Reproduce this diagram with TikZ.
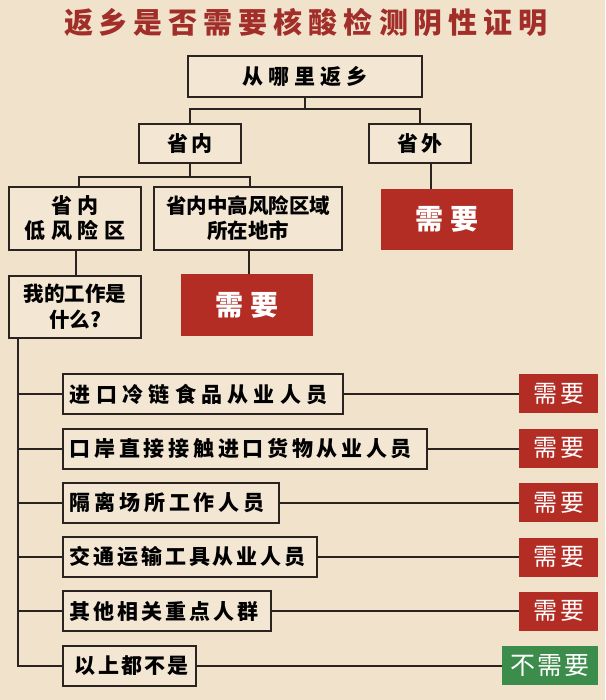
\documentclass[tikz,border=0pt]{standalone}
\usepackage{fontspec}
\newfontfamily\cjk{Noto Sans CJK SC}
\definecolor{bgc}{HTML}{F1E2CB}
\definecolor{boxc}{HTML}{F3E6D3}
\definecolor{linec}{HTML}{2A2320}
\definecolor{redc}{HTML}{B32D24}
\definecolor{greenc}{HTML}{3C8C4C}
\definecolor{titlec}{HTML}{A12E29}
\makeatletter
\newcommand\ls[2]{\def\lsgap{#1}\@tfor\lsch:=#2\do{\lsch\hskip\lsgap\relax}\unskip}
\makeatother
\tikzset{
  plain/.style={draw=linec, line width=1.8pt, fill=boxc, inner sep=0pt, align=center, text=black, font=\cjk\bfseries\fontsize{21}{25}\selectfont},
  redbig/.style={fill=redc, inner sep=0pt, text=white, font=\cjk\bfseries\fontsize{28}{30}\selectfont},
  rowbox/.style={draw=linec, line width=1.8pt, fill=boxc, anchor=west, minimum height=40pt, inner ysep=0pt, inner xsep=7pt, align=left, text=black, font=\cjk\bfseries\fontsize{21}{24}\selectfont},
  res/.style={fill=redc, inner sep=0pt, minimum height=39pt, text=white, font=\cjk\fontsize{24}{26}\selectfont},
  resg/.style={fill=greenc, inner sep=0pt, minimum height=39pt, text=white, font=\cjk\fontsize{25}{27}\selectfont},
  conn/.style={draw=linec, line width=1.8pt}
}
\begin{document}
\begin{tikzpicture}[x=1pt,y=-1pt]
\fill[bgc] (0,0) rectangle (605,700);
\useasboundingbox (0,0) rectangle (605,700);
\node[text=titlec, font=\cjk\bfseries\fontsize{29}{32}\selectfont] (title) at (306,22) {\ls{6pt}{返乡是否需要核酸检测阴性证明}};
\node[plain, minimum width=234pt, minimum height=41pt] (top) at (305,76.5) {\ls{4.9pt}{从哪里返乡}};
\node[plain, minimum width=102pt, minimum height=39pt] (sn) at (190,143.5) {\ls{3.7pt}{省内}};
\node[plain, minimum width=102pt, minimum height=39pt] (sw) at (420,143.5) {\ls{3.7pt}{省外}};
\node[redbig, minimum width=132pt, minimum height=61pt] (need1) at (447,219.5) {\ls{7pt}{需要}};
\node[plain, minimum width=132pt, minimum height=63pt] (low) at (75,218.5) {\ls{5.6pt}{省内}\\\ls{5.6pt}{低风险区}};
\node[plain, minimum width=188pt, minimum height=63pt, font=\cjk\bfseries\fontsize{20.5}{25}\selectfont] (high) at (248,218.5) {省内中高风险区域\\所在地市};
\node[redbig, minimum width=132pt, minimum height=62pt] (need2) at (247,305) {\ls{7pt}{需要}};
\node[plain, minimum width=132pt, minimum height=62pt, font=\cjk\bfseries\fontsize{20.5}{26}\selectfont] (work) at (75,307) {我的工作是\\什么?};
\node[rowbox, text width=266pt] (r1) at (62,394) {\ls{5.3pt}{进口冷链食品从业人员}};
\node[rowbox, text width=350pt] (r2) at (62,449) {\ls{3.7pt}{口岸直接接触进口货物从业人员}};
\node[rowbox, text width=202pt] (r3) at (62,503) {\ls{3.8pt}{隔离场所工作人员}};
\node[rowbox, text width=240pt] (r4) at (62,557) {\ls{2.85pt}{交通运输工具从业人员}};
\node[rowbox, text width=194pt] (r5) at (62,611) {\ls{3pt}{其他相关重点人群}};
\node[rowbox, text width=119pt] (r6) at (62,666) {\hspace{5pt}\ls{2.2pt}{以上都不是}};
\node[res, minimum width=79pt] (o1) at (558.5,393.5) {\ls{3pt}{需要}};
\node[res, minimum width=79pt] (o2) at (558.5,448) {\ls{3pt}{需要}};
\node[res, minimum width=79pt] (o3) at (558.5,502.5) {\ls{3pt}{需要}};
\node[res, minimum width=79pt] (o4) at (558.5,557) {\ls{3pt}{需要}};
\node[res, minimum width=79pt] (o5) at (558.5,611) {\ls{3pt}{需要}};
\node[resg, minimum width=96pt] (o6) at (550,665.5) {\ls{2.2pt}{不需要}};
% tree connectors
\draw[conn] (top.south) -- ++(0,11.5) -| (sn.north);
\draw[conn] (top.south) ++(0,11.5) -| (sw.north);
\draw[conn] ([xshift=11pt]sw.south) -- ([xshift=11pt]sw.south |- need1.north);
\draw[conn] (sn.south) -- ++(0,13) -| ([xshift=4pt]low.north);
\draw[conn] (sn.south) ++(0,13) -| ([xshift=2pt]high.north);
\draw[conn] ([xshift=1pt]high.south) -- ([xshift=1pt]high.south |- need2.north);
\draw[conn] ([xshift=1pt]low.south) -- ([xshift=1pt]low.south |- work.north);
% trunk
\draw[conn] ([xshift=10pt]work.south west) coordinate (t) |- (r6.west);
\foreach \r in {r1,r2,r3,r4,r5}{\draw[conn] (t |- \r.west) -- (\r.west);}
\foreach \r/\o in {r1/o1,r2/o2,r3/o3,r4/o4,r5/o5,r6/o6}{\draw[conn] (\r.east) -- (\r.east -| \o.west);}
\end{tikzpicture}
\end{document}
